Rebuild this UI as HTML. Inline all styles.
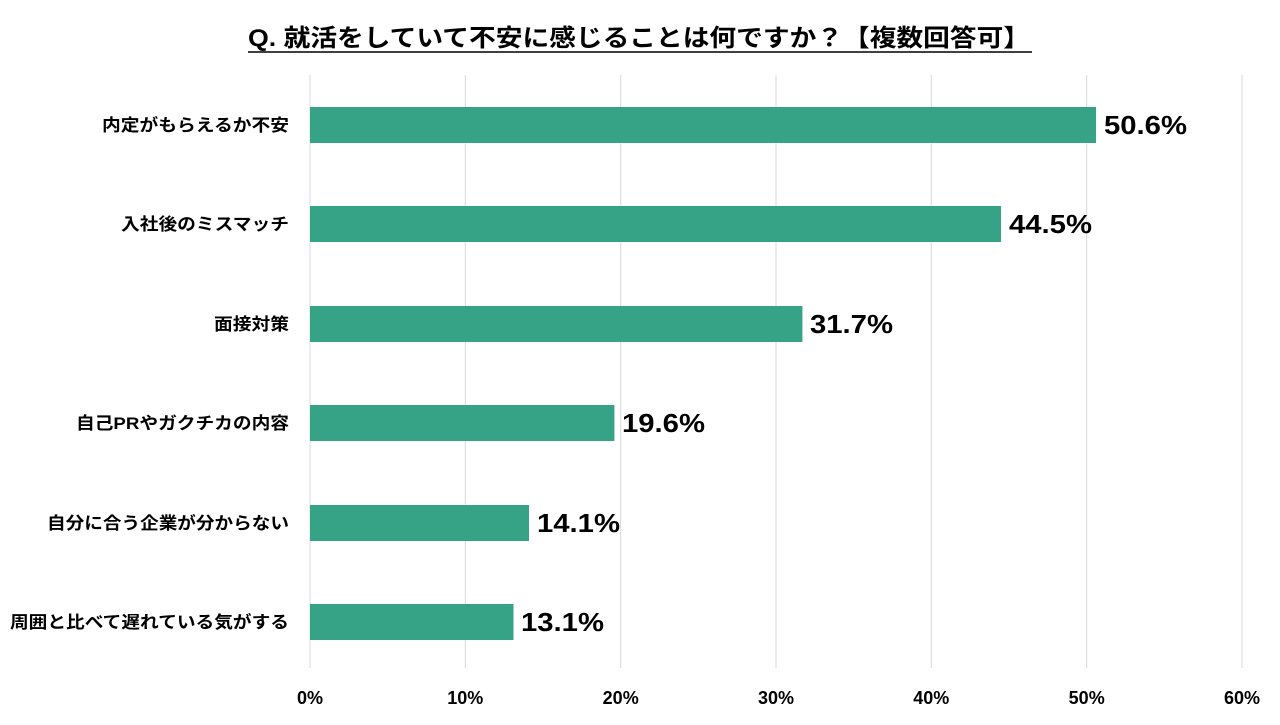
<!DOCTYPE html>
<html><head><meta charset="utf-8"><style>
body{margin:0;width:1280px;height:720px;background:#fff;font-family:"Liberation Sans","Noto Sans CJK JP",sans-serif;overflow:hidden}
svg text{font-family:"Liberation Sans","Noto Sans CJK JP",sans-serif}
</style></head><body>
<svg width="1280" height="720" xmlns="http://www.w3.org/2000/svg">
<text x="248" y="46" font-size="24" font-weight="bold" fill="#000" textLength="782" lengthAdjust="spacingAndGlyphs">Q. 就活をしていて不安に感じることは何ですか？【複数回答可】</text>
<line x1="248" y1="52" x2="1032" y2="52" stroke="#000" stroke-width="1.5"/>
<g stroke="#d9d9d9" stroke-width="1">
<line x1="310" y1="75" x2="310" y2="668"/><line x1="465.3" y1="75" x2="465.3" y2="668"/><line x1="620.7" y1="75" x2="620.7" y2="668"/><line x1="776" y1="75" x2="776" y2="668"/><line x1="931.3" y1="75" x2="931.3" y2="668"/><line x1="1086.7" y1="75" x2="1086.7" y2="668"/><line x1="1242" y1="75" x2="1242" y2="668"/>
</g>
<g fill="#36a387">
<rect x="310" y="107" width="786" height="36"/>
<rect x="310" y="206" width="691" height="36"/>
<rect x="310" y="306" width="492.4" height="36"/>
<rect x="310" y="405" width="304.4" height="36"/>
<rect x="310" y="505" width="219" height="36"/>
<rect x="310" y="604" width="203.5" height="36"/>
</g>
<g font-size="26" font-weight="bold" fill="#000">
<text x="1104" y="134" textLength="83" lengthAdjust="spacingAndGlyphs">50.6%</text>
<text x="1009" y="233" textLength="83" lengthAdjust="spacingAndGlyphs">44.5%</text>
<text x="810" y="333" textLength="83" lengthAdjust="spacingAndGlyphs">31.7%</text>
<text x="622" y="432" textLength="83" lengthAdjust="spacingAndGlyphs">19.6%</text>
<text x="537" y="532" textLength="83" lengthAdjust="spacingAndGlyphs">14.1%</text>
<text x="521" y="631" textLength="83" lengthAdjust="spacingAndGlyphs">13.1%</text>
</g>
<g font-size="17" font-weight="bold" fill="#000" text-anchor="end">
<text x="289" y="131" textLength="187" lengthAdjust="spacingAndGlyphs">内定がもらえるか不安</text>
<text x="289" y="230" textLength="168" lengthAdjust="spacingAndGlyphs">入社後のミスマッチ</text>
<text x="289" y="330" textLength="75" lengthAdjust="spacingAndGlyphs">面接対策</text>
<text x="289" y="429" textLength="213" lengthAdjust="spacingAndGlyphs">自己PRやガクチカの内容</text>
<text x="289" y="529" textLength="242" lengthAdjust="spacingAndGlyphs">自分に合う企業が分からない</text>
<text x="289" y="628" textLength="279" lengthAdjust="spacingAndGlyphs">周囲と比べて遅れている気がする</text>
</g>
<g font-size="18" font-weight="bold" fill="#000" text-anchor="middle">
<text x="310" y="704">0%</text><text x="465.3" y="704">10%</text><text x="620.7" y="704">20%</text><text x="776" y="704">30%</text><text x="931.3" y="704">40%</text><text x="1086.7" y="704">50%</text><text x="1242" y="704">60%</text>
</g>
</svg>
</body></html>
